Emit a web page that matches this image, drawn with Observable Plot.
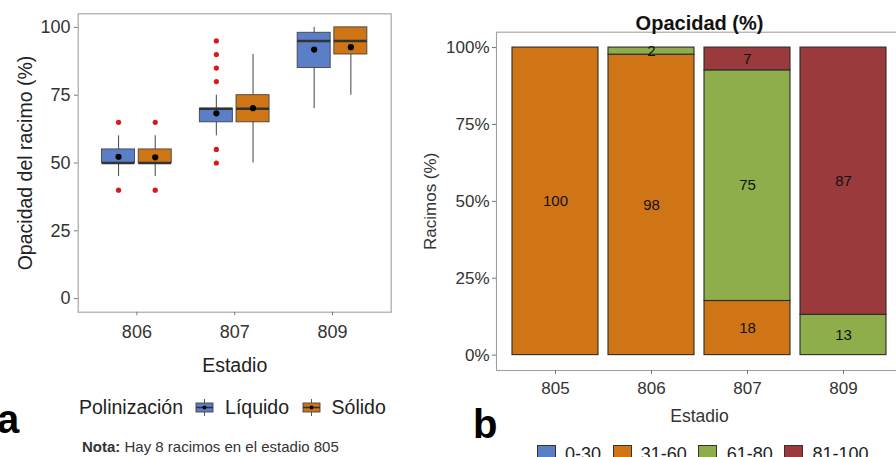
<!DOCTYPE html>
<html>
<head>
<meta charset="utf-8">
<script src="https://cdn.jsdelivr.net/npm/d3@7"></script>
<script src="https://cdn.jsdelivr.net/npm/@observablehq/plot@0.6"></script>
<style>
  html, body { margin: 0; padding: 0; background: #fff; overflow: hidden; }
  #root { position: relative; width: 896px; height: 457px; overflow: hidden; background: #fff;
          font-family: "Liberation Sans", Arial, sans-serif; }
  .abs { position: absolute; }
  .panel-tag { position: absolute; font-weight: bold; font-size: 40px; color: #000; line-height: 1; }
  .leg { position: absolute; display: flex; align-items: center; white-space: nowrap; color: #222; }
  .leg svg { display: block; }
</style>
</head>
<body>
<div id="root"></div>
<script>
// ---------- Panel a data (boxplot summaries) ----------
const estadiosA = ["806", "807", "809"];
const grupos = ["Líquido", "Sólido"];
const coloresGrupo = ["#5B7FC6", "#D07515"];

const liqLo   = [45, 60, 70];
const liqQ1   = [50, 65, 85];
const liqMed  = [50, 70, 95];
const liqQ3   = [55, 70, 98];
const liqHi   = [60, 75, 100];
const liqMean = [52.3, 68.3, 91.8];
const liqOut  = [[65, 40], [95, 90, 85, 80, 55, 50], []];

const solLo   = [45, 50, 75];
const solQ1   = [50, 65, 90];
const solMed  = [50, 70, 95];
const solQ3   = [55, 75, 100];
const solHi   = [60, 90, 100];
const solMean = [52.1, 70.2, 92.7];
const solOut  = [[65, 40], [], []];

// ---------- Panel b data (stacked percentages) ----------
const estadiosB = ["805", "806", "807", "809"];
const rangos = ["0-30", "31-60", "61-80", "81-100"];
const coloresRango = ["#5B7FC6", "#D07515", "#8DAE4A", "#9A3A3C"];
const pct0_30   = [0, 0, 0, 0];
const pct31_60  = [100, 97.7, 17.6, 0];
const pct61_80  = [0, 2.3, 75, 13.1];
const pct81_100 = [0, 0, 7.4, 86.9];

const notaTexto = "Hay 8 racimos en el estadio 805";

// ---------- build tables ----------
const dodge = 0.1875, halfW = 0.16875;
const boxes = [];
const outliers = [];
const stats = [
  {lo: liqLo, q1: liqQ1, med: liqMed, q3: liqQ3, hi: liqHi, mean: liqMean, out: liqOut},
  {lo: solLo, q1: solQ1, med: solMed, q3: solQ3, hi: solHi, mean: solMean, out: solOut}
];
stats.forEach((s, g) => {
  estadiosA.forEach((e, i) => {
    const xc = i + (g === 0 ? -dodge : dodge);
    boxes.push({grupo: grupos[g], xc, x1: xc - halfW, x2: xc + halfW,
      lo: s.lo[i], q1: s.q1[i], med: s.med[i], q3: s.q3[i], hi: s.hi[i], mean: s.mean[i]});
    s.out[i].forEach(v => outliers.push({xc, v}));
  });
});

const series = [pct0_30, pct31_60, pct61_80, pct81_100];
const rows = [];
estadiosB.forEach((e, i) => {
  rangos.forEach((r, k) => {
    if (series[k][i] > 0) rows.push({estadio: e, rango: r, value: series[k][i]});
  });
});

const root = document.getElementById("root");
const font = '"Liberation Sans", Arial, sans-serif';

// ---------- Panel a ----------
const WA = 400, HA = 380;
const plotA = Plot.plot({
  width: WA, height: HA,
  marginLeft: 77.7, marginRight: 9.3, marginTop: 13.3, marginBottom: 68.3,
  style: {fontFamily: font, background: "transparent", overflow: "visible"},
  x: {domain: [-0.6, 2.6]},
  y: {domain: [-5, 105]},
  color: {domain: grupos, range: coloresGrupo},
  marks: [
    Plot.frame({stroke: "#a0a0a0", strokeWidth: 1.1}),
    Plot.axisX({ticks: [0, 1, 2], tickFormat: i => estadiosA[i], tickSize: 3.5, tickPadding: 9.5,
      fontSize: 18, stroke: "#777", color: "#333", label: null}),
    Plot.axisY({ticks: [0, 25, 50, 75, 100], tickSize: 3.7, tickPadding: 4,
      fontSize: 18, stroke: "#777", color: "#333", label: null}),
    Plot.ruleX(boxes, {x: "xc", y1: "lo", y2: "hi", stroke: "#555", strokeWidth: 1.1}),
    Plot.rect(boxes, {x1: "x1", x2: "x2", y1: "q1", y2: "q3", fill: "grupo", stroke: "#444", strokeWidth: 0.9}),
    Plot.ruleY(boxes, {y: "med", x1: "x1", x2: "x2", stroke: "#333", strokeWidth: 2.4}),
    Plot.dot(outliers, {x: "xc", y: "v", r: 2.6, fill: "#D7191C", stroke: "none"}),
    Plot.dot(boxes, {x: "xc", y: "mean", r: 3.1, fill: "#000", stroke: "none"}),
    Plot.text(["Estadio"], {frameAnchor: "bottom", dy: 53.5, fontSize: 19.5, fill: "#222",
      lineAnchor: "middle", textAnchor: "middle"}),
    Plot.text(["Opacidad del racimo (%)"], {frameAnchor: "left", dx: -52.5, rotate: -90, fontSize: 19.5,
      fill: "#222", lineAnchor: "middle", textAnchor: "middle"})
  ]
});
plotA.style.position = "absolute";
plotA.style.left = "0px";
plotA.style.top = "0px";
root.appendChild(plotA);

// ---------- Panel b ----------
const WB = 492, HB = 457;
const plotB = Plot.plot({
  width: WB, height: HB,
  marginLeft: 86, marginRight: 0, marginTop: 31.7, marginBottom: 87,
  style: {fontFamily: font, background: "transparent", overflow: "visible"},
  x: {type: "band", domain: estadiosB, paddingInner: 0.1, paddingOuter: 0.15, align: 0.5},
  y: {domain: [-5, 105]},
  color: {domain: rangos, range: coloresRango},
  marks: [
    Plot.frame({stroke: "#a0a0a0", strokeWidth: 1.1}),
    Plot.axisX({tickSize: 4, tickPadding: 7, fontSize: 17, stroke: "#777", color: "#333", label: null}),
    Plot.axisY({ticks: [0, 25, 50, 75, 100], tickFormat: d => d + "%", tickSize: 4, tickPadding: 3,
      fontSize: 17, stroke: "#777", color: "#333", label: null}),
    Plot.barY(rows, {x: "estadio", y: "value", fill: "rango", stroke: "#2b2b2b", strokeWidth: 1.1}),
    Plot.text(rows, Plot.stackY({x: "estadio", y: "value", text: d => String(Math.round(d.value)),
      fontSize: 15, fill: "#111"})),
    Plot.text(["Opacidad (%)"], {frameAnchor: "top", dy: -9, fontSize: 20, fontWeight: "bold", fill: "#111",
      lineAnchor: "middle", textAnchor: "middle"}),
    Plot.text(["Estadio"], {frameAnchor: "bottom", dy: 46, fontSize: 17.5, fill: "#333",
      lineAnchor: "middle", textAnchor: "middle"}),
    Plot.text(["Racimos (%)"], {frameAnchor: "left", dx: -66, rotate: -90, fontSize: 17, fill: "#333",
      lineAnchor: "middle", textAnchor: "middle"})
  ]
});
plotB.style.position = "absolute";
plotB.style.left = "410px";
plotB.style.top = "0px";
root.appendChild(plotB);

// ---------- Legend a ----------
function boxGlyph(color) {
  const ns = "http://www.w3.org/2000/svg";
  const s = document.createElementNS(ns, "svg");
  s.setAttribute("width", 19); s.setAttribute("height", 17);
  s.innerHTML =
    `<line x1="9.5" x2="9.5" y1="0" y2="17" stroke="#555" stroke-width="1"/>` +
    `<rect x="1" y="4" width="17" height="9" fill="${color}" stroke="#444" stroke-width="0.9"/>` +
    `<line x1="1" x2="18" y1="8.5" y2="8.5" stroke="#333" stroke-width="1.6"/>` +
    `<circle cx="9.5" cy="8.5" r="2" fill="#000"/>`;
  return s;
}
const legA = document.createElement("div");
legA.className = "leg";
legA.style.left = "79px"; legA.style.top = "396px"; legA.style.fontSize = "19.5px"; legA.style.height = "22px";
const titA = document.createElement("span"); titA.textContent = "Polinización"; titA.style.marginRight = "12px";
legA.appendChild(titA);
grupos.forEach((g, i) => {
  const gl = boxGlyph(coloresGrupo[i]);
  gl.style.marginRight = "11px";
  legA.appendChild(gl);
  const t = document.createElement("span"); t.textContent = g;
  if (i < grupos.length - 1) t.style.marginRight = "12.5px";
  legA.appendChild(t);
});
root.appendChild(legA);

// ---------- Nota ----------
const nota = document.createElement("div");
nota.className = "abs";
nota.style.left = "82px"; nota.style.top = "438px"; nota.style.fontSize = "15px"; nota.style.color = "#333";
nota.style.whiteSpace = "nowrap"; nota.style.lineHeight = "18px";
nota.innerHTML = "<b>Nota:</b> " + notaTexto;
root.appendChild(nota);

// ---------- Legend b ----------
const legB = document.createElement("div");
legB.className = "leg";
legB.style.left = "536.7px"; legB.style.top = "445px"; legB.style.fontSize = "18px"; legB.style.height = "19px";
rangos.forEach((r, i) => {
  const sq = document.createElement("div");
  sq.style.width = "17px"; sq.style.height = "17px"; sq.style.background = coloresRango[i];
  sq.style.border = "1px solid #333"; sq.style.marginRight = "9.3px";
  legB.appendChild(sq);
  const t = document.createElement("span"); t.textContent = r;
  if (i < rangos.length - 1) t.style.marginRight = "11.5px";
  legB.appendChild(t);
});
root.appendChild(legB);

// ---------- Panel tags ----------
const tagA = document.createElement("div");
tagA.className = "panel-tag"; tagA.textContent = "a";
tagA.style.left = "-3px"; tagA.style.top = "399px";
root.appendChild(tagA);
const tagB = document.createElement("div");
tagB.className = "panel-tag"; tagB.textContent = "b";
tagB.style.left = "473px"; tagB.style.top = "404px";
root.appendChild(tagB);
</script>
</body>
</html>
